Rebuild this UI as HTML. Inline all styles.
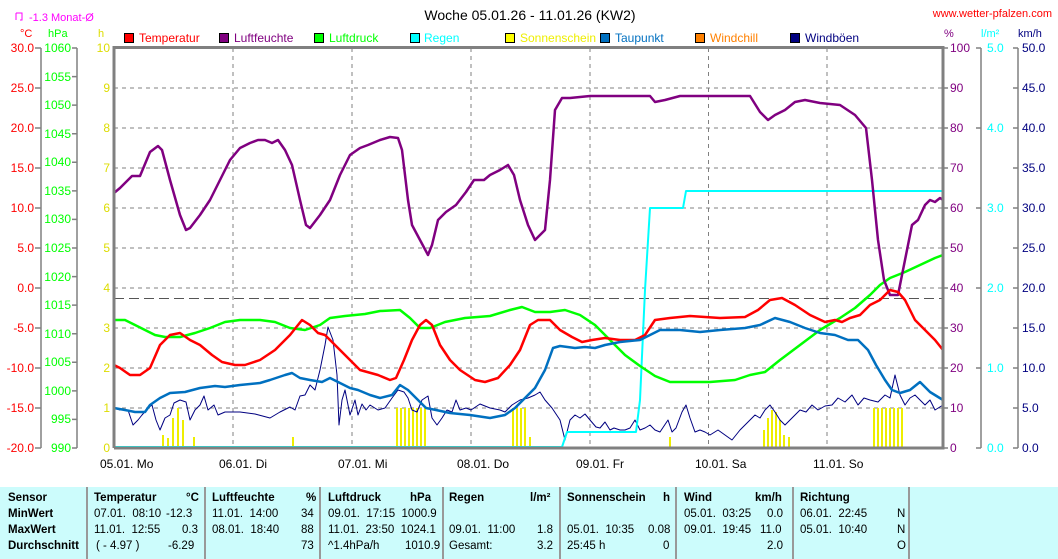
<!DOCTYPE html><html><head><meta charset="utf-8"><style>
body{margin:0;background:#fff;width:1058px;height:559px;overflow:hidden;font-family:"Liberation Sans",sans-serif}
svg{position:absolute;left:0;top:0}
text{font-family:"Liberation Sans",sans-serif;font-size:12px}
.tb{position:absolute;left:0;top:487px;width:1058px;height:72px;background:#ccfcfc}
.c{position:absolute;top:487px;height:72px;border-left:2px solid #999}
.t{position:absolute;font-size:11.5px;white-space:pre;color:#000}
.b{font-weight:bold}
</style></head><body>
<div class="tb"></div>
<div class="c" style="left:86px"></div><div class="c" style="left:204px"></div><div class="c" style="left:319px"></div><div class="c" style="left:442px"></div><div class="c" style="left:559px"></div><div class="c" style="left:675px"></div><div class="c" style="left:792px"></div><div class="c" style="left:908px"></div>
<div class="t b" style="left:8px;top:492px">Sensor</div>
<div class="t b" style="left:8px;top:508px">MinWert</div>
<div class="t b" style="left:8px;top:524px">MaxWert</div>
<div class="t b" style="left:8px;top:540px">Durchschnitt</div>
<div class="t b" style="left:94px;top:492px">Temperatur</div><div class="t b" style="left:186px;top:492px">°C</div>
<div class="t" style="left:94px;top:508px">07.01.  08:10</div><div class="t" style="left:166px;top:508px">-12.3</div>
<div class="t" style="left:94px;top:524px">11.01.  12:55</div><div class="t" style="left:182px;top:524px">0.3</div>
<div class="t" style="left:96px;top:540px">( - 4.97 )</div><div class="t" style="left:168px;top:540px">-6.29</div>
<div class="t b" style="left:212px;top:492px">Luftfeuchte</div><div class="t b" style="left:306px;top:492px">%</div>
<div class="t" style="left:212px;top:508px">11.01.  14:00</div><div class="t" style="left:301px;top:508px">34</div>
<div class="t" style="left:212px;top:524px">08.01.  18:40</div><div class="t" style="left:301px;top:524px">88</div>
<div class="t" style="left:301px;top:540px">73</div>
<div class="t b" style="left:328px;top:492px">Luftdruck</div><div class="t b" style="left:410px;top:492px">hPa</div>
<div class="t" style="left:328px;top:508px">09.01.  17:15  1000.9</div>
<div class="t" style="left:328px;top:524px">11.01.  23:50  1024.1</div>
<div class="t" style="left:328px;top:540px">^1.4hPa/h        1010.9</div>
<div class="t b" style="left:449px;top:492px">Regen</div><div class="t b" style="left:530px;top:492px">l/m²</div>
<div class="t" style="left:449px;top:524px">09.01.  11:00</div><div class="t" style="left:537px;top:524px">1.8</div>
<div class="t" style="left:449px;top:540px">Gesamt:</div><div class="t" style="left:537px;top:540px">3.2</div>
<div class="t b" style="left:567px;top:492px">Sonnenschein</div><div class="t b" style="left:663px;top:492px">h</div>
<div class="t" style="left:567px;top:524px">05.01.  10:35</div><div class="t" style="left:648px;top:524px">0.08</div>
<div class="t" style="left:567px;top:540px">25:45 h</div><div class="t" style="left:663px;top:540px">0</div>
<div class="t b" style="left:684px;top:492px">Wind</div><div class="t b" style="left:755px;top:492px">km/h</div>
<div class="t" style="left:684px;top:508px">05.01.  03:25</div><div class="t" style="left:767px;top:508px">0.0</div>
<div class="t" style="left:684px;top:524px">09.01.  19:45</div><div class="t" style="left:760px;top:524px">11.0</div>
<div class="t" style="left:767px;top:540px">2.0</div>
<div class="t b" style="left:800px;top:492px">Richtung</div>
<div class="t" style="left:800px;top:508px">06.01.  22:45</div><div class="t" style="left:897px;top:508px">N</div>
<div class="t" style="left:800px;top:524px">05.01.  10:40</div><div class="t" style="left:897px;top:524px">N</div>
<div class="t" style="left:897px;top:540px">O</div>
<svg width="1058" height="487" viewBox="0 0 1058 487">
<text x="530" y="20" text-anchor="middle" style="font-size:14px">Woche 05.01.26 - 11.01.26 (KW2)</text>
<text x="1052" y="17" text-anchor="end" fill="#f00" style="font-size:11px">www.wetter-pfalzen.com</text>
<path d="M16 13v7M16 13h6v7h-2" stroke="#f0f" fill="none"/>
<text x="29" y="21" fill="#f0f" style="font-size:11px">-1.3 Monat-Ø</text>
<text x="20" y="37" fill="#f00" style="font-size:11px">°C</text>
<text x="48" y="37" fill="#0f0" style="font-size:11px">hPa</text>
<text x="98" y="37" fill="#dd0" style="font-size:11px">h</text>
<text x="944" y="37" fill="#800080" style="font-size:11px">%</text>
<text x="981" y="37" fill="#0ff" style="font-size:11px">l/m²</text>
<text x="1018" y="37" fill="#000080" style="font-size:11px">km/h</text>
<g style="font-size:11px">
<rect x="124.5" y="33.5" width="9" height="9" fill="#f00" stroke="#000"/><text x="139" y="42" fill="#f00">Temperatur</text>
<rect x="219.5" y="33.5" width="9" height="9" fill="#800080" stroke="#000"/><text x="234" y="42" fill="#800080">Luftfeuchte</text>
<rect x="314.5" y="33.5" width="9" height="9" fill="#0f0" stroke="#000"/><text x="329" y="42" fill="#0f0">Luftdruck</text>
<rect x="410.5" y="33.5" width="9" height="9" fill="#0ff" stroke="#000"/><text x="424" y="42" fill="#0ff">Regen</text>
<rect x="505.5" y="33.5" width="9" height="9" fill="#ff0" stroke="#000"/><text x="520" y="42" fill="#ee0">Sonnenschein</text>
<rect x="600.5" y="33.5" width="9" height="9" fill="#0070c0" stroke="#000"/><text x="615" y="42" fill="#0070c0">Taupunkt</text>
<rect x="695.5" y="33.5" width="9" height="9" fill="#ff8000" stroke="#000"/><text x="710" y="42" fill="#ff8000">Windchill</text>
<rect x="790.5" y="33.5" width="9" height="9" fill="#000080" stroke="#000"/><text x="805" y="42" fill="#000080">Windböen</text>
</g>
<g stroke="#808080" stroke-dasharray="4,4" fill="none">
<path d="M114 88H943M114 128H943M114 168H943M114 208H943M114 248H943M114 288H943M114 328H943M114 368H943M114 408H943"/>
<path d="M233 48V448M352 48V448M471 48V448M590 48V448M708.5 48V448M827 48V448"/>
</g>
<path d="M114 298.5H943" stroke="#555" stroke-dasharray="10,5"/>
<g stroke="#808080" fill="none" stroke-width="1.5">
<path d="M41 48V448M77 48V448M981 48V448M1018 48V448"/>
<path d="M35 48h6M35 88h6M35 128h6M35 168h6M35 208h6M35 248h6M35 288h6M35 328h6M35 368h6M35 408h6M35 448h6"/>
<path d="M72 48h5M72 76.6h5M72 105.1h5M72 133.7h5M72 162.3h5M72 190.9h5M72 219.4h5M72 248h5M72 276.6h5M72 305.1h5M72 333.7h5M72 362.3h5M72 390.9h5M72 419.4h5M72 448h5"/>
<path d="M943 48h5M943 88h5M943 128h5M943 168h5M943 208h5M943 248h5M943 288h5M943 328h5M943 368h5M943 408h5M943 448h5"/>
<path d="M976 48h5M976 128h5M976 208h5M976 288h5M976 368h5M976 448h5"/>
<path d="M1013 48h5M1013 88h5M1013 128h5M1013 168h5M1013 208h5M1013 248h5M1013 288h5M1013 328h5M1013 368h5M1013 408h5M1013 448h5"/>
</g>
<g text-anchor="end" fill="#f00"><text x="34" y="52">30.0</text><text x="34" y="92">25.0</text><text x="34" y="132">20.0</text><text x="34" y="172">15.0</text><text x="34" y="212">10.0</text><text x="34" y="252">5.0</text><text x="34" y="292">0.0</text><text x="34" y="332">-5.0</text><text x="34" y="372">-10.0</text><text x="34" y="412">-15.0</text><text x="34" y="452">-20.0</text></g>
<g text-anchor="end" fill="#0f0" style="font-size:11px"><text x="71" y="52">1060</text><text x="71" y="81">1055</text><text x="71" y="109">1050</text><text x="71" y="138">1045</text><text x="71" y="166">1040</text><text x="71" y="195">1035</text><text x="71" y="223">1030</text><text x="71" y="252">1025</text><text x="71" y="281">1020</text><text x="71" y="309">1015</text><text x="71" y="338">1010</text><text x="71" y="366">1005</text><text x="71" y="395">1000</text><text x="71" y="423">995</text><text x="71" y="452">990</text></g>
<g text-anchor="end" fill="#dd0"><text x="110" y="52">10</text><text x="110" y="92">9</text><text x="110" y="132">8</text><text x="110" y="172">7</text><text x="110" y="212">6</text><text x="110" y="252">5</text><text x="110" y="292">4</text><text x="110" y="332">3</text><text x="110" y="372">2</text><text x="110" y="412">1</text><text x="110" y="452">0</text></g>
<g fill="#800080"><text x="950" y="52">100</text><text x="950" y="92">90</text><text x="950" y="132">80</text><text x="950" y="172">70</text><text x="950" y="212">60</text><text x="950" y="252">50</text><text x="950" y="292">40</text><text x="950" y="332">30</text><text x="950" y="372">20</text><text x="950" y="412">10</text><text x="950" y="452">0</text></g>
<g fill="#0ff"><text x="987" y="52">5.0</text><text x="987" y="132">4.0</text><text x="987" y="212">3.0</text><text x="987" y="292">2.0</text><text x="987" y="372">1.0</text><text x="987" y="452">0.0</text></g>
<g fill="#000080"><text x="1022" y="52">50.0</text><text x="1022" y="92">45.0</text><text x="1022" y="132">40.0</text><text x="1022" y="172">35.0</text><text x="1022" y="212">30.0</text><text x="1022" y="252">25.0</text><text x="1022" y="292">20.0</text><text x="1022" y="332">15.0</text><text x="1022" y="372">10.0</text><text x="1022" y="412">5.0</text><text x="1022" y="452">0.0</text></g>
<g><text x="100" y="468">05.01. Mo</text><text x="219" y="468">06.01. Di</text><text x="338" y="468">07.01. Mi</text><text x="457" y="468">08.01. Do</text><text x="576" y="468">09.01. Fr</text><text x="695" y="468">10.01. Sa</text><text x="813" y="468">11.01. So</text></g>
<g fill="#ee0">
<rect x="162" y="435" width="2" height="13"/><rect x="167" y="438" width="2" height="10"/><rect x="172" y="418" width="2" height="30"/><rect x="177" y="408" width="2" height="40"/><rect x="182" y="420" width="2" height="28"/><rect x="193" y="437" width="2" height="11"/><rect x="292" y="437" width="2" height="11"/>
<rect x="396" y="408" width="2" height="40"/><rect x="400" y="408" width="2" height="40"/><rect x="404" y="408" width="2" height="40"/><rect x="408" y="408" width="2" height="40"/><rect x="412" y="408" width="2" height="40"/><rect x="416" y="408" width="2" height="40"/><rect x="420" y="408" width="2" height="40"/><rect x="424" y="408" width="2" height="40"/>
<rect x="512" y="408" width="2" height="40"/><rect x="516" y="408" width="2" height="40"/><rect x="520" y="408" width="2" height="40"/><rect x="524" y="408" width="2" height="40"/><rect x="529" y="437" width="2" height="11"/>
<rect x="669" y="437" width="2" height="11"/>
<rect x="763" y="430" width="2" height="18"/><rect x="767" y="418" width="2" height="30"/><rect x="771" y="410" width="2" height="38"/><rect x="775" y="412" width="2" height="36"/><rect x="779" y="420" width="2" height="28"/><rect x="783" y="435" width="2" height="13"/><rect x="788" y="437" width="2" height="11"/>
<rect x="873" y="408" width="2" height="40"/><rect x="877" y="408" width="2" height="40"/><rect x="881" y="408" width="2" height="40"/><rect x="885" y="408" width="2" height="40"/><rect x="889" y="408" width="2" height="40"/><rect x="893" y="408" width="2" height="40"/><rect x="897" y="408" width="2" height="40"/><rect x="901" y="408" width="2" height="40"/>
</g>
<g fill="none" stroke-linejoin="round">
<polyline stroke="#000080" stroke-width="1" points="114,408 120,410 128,410 133,425 138,420 142,415 148,408 152,405 156,420 160,430 165,418 170,415 174,403 180,400 186,402 190,420 195,410 200,405 204,396 208,410 214,405 218,415 225,412 240,412 255,414 270,418 280,412 290,407 295,410 300,396 305,395 310,385 315,390 320,370 325,345 328,327 333,340 337,375 339,425 342,400 345,390 350,415 355,400 358,415 362,404 366,410 370,405 378,410 385,408 392,398 398,390 404,392 408,398 412,410 417,412 422,400 428,396 432,418 437,425 442,418 447,410 452,412 456,400 460,410 466,408 471,410 480,404 490,408 500,410 505,412 512,405 520,400 528,398 535,395 540,392 545,400 552,408 560,420 565,440 570,420 575,415 580,418 585,414 590,420 596,427 600,428 605,422 610,430 614,428 620,430 625,430 630,428 635,420 640,430 645,428 650,425 655,430 660,432 668,420 672,432 676,428 682,412 686,405 690,418 695,432 700,430 705,432 710,435 718,430 725,435 732,440 740,430 745,425 750,420 755,415 760,418 765,410 770,405 775,412 780,420 785,425 790,420 795,415 800,410 806,412 812,405 818,410 825,406 832,405 838,398 845,402 852,395 858,405 864,398 870,400 878,402 885,395 890,398 895,375 900,395 905,405 910,398 915,395 920,400 925,405 930,400 935,410 943,405"/>
<polyline stroke="#0ff" stroke-width="2" points="114,447 562,447 567,432 636,432 640,400 645,290 650,208 683,208 686,191 943,191"/>
<polyline stroke="#0f0" stroke-width="2.5" points="114,320 125,320 135,325 145,330 155,335 165,337 180,337 195,333 210,328 225,322 240,320 260,320 275,322 290,328 305,330 320,325 330,318 345,316 365,314 380,311 400,310 410,318 420,328 430,328 445,322 465,318 490,316 510,310 522,307 535,312 550,312 565,310 580,315 595,325 610,340 625,355 640,366 655,376 670,382 690,382 710,382 735,380 750,375 765,372 780,360 800,345 820,330 840,318 855,308 870,295 880,285 890,278 905,272 920,265 935,258 943,255"/>
<polyline stroke="#800080" stroke-width="2.5" points="114,193 120,188 132,176 140,176 150,152 158,146 162,150 170,180 180,215 186,230 190,228 200,215 210,200 220,180 230,160 240,148 250,143 258,140 265,140 272,143 278,140 285,150 292,165 300,200 306,225 310,228 320,215 330,200 340,175 350,155 360,148 368,145 380,140 390,137 398,138 402,150 408,200 412,225 420,240 428,255 432,245 438,220 446,212 456,205 466,192 474,180 484,180 490,175 500,170 508,165 514,175 520,200 528,225 535,240 540,235 545,230 550,180 555,110 562,98 570,98 590,96 620,96 650,96 655,102 665,100 680,96 750,96 760,112 768,120 775,115 785,110 795,102 805,100 820,103 840,105 855,115 866,128 872,180 878,240 884,280 890,295 898,295 905,260 912,225 918,220 925,205 930,200 935,202 940,198 943,200"/>
<polyline stroke="#f00" stroke-width="2.5" points="114,365 120,368 130,375 140,375 150,368 160,345 170,335 180,333 190,340 200,345 212,355 222,362 235,365 245,365 260,360 275,350 290,335 302,320 310,325 318,333 325,335 330,340 345,355 360,370 378,375 390,380 396,378 404,360 412,340 420,325 426,320 432,325 440,345 450,360 460,370 475,380 485,382 498,378 510,365 520,350 530,325 538,320 550,320 560,330 572,337 582,342 592,340 605,338 620,340 635,340 645,335 655,320 670,318 690,316 720,318 745,317 758,310 770,300 782,298 795,305 810,315 825,322 835,320 842,322 850,318 860,315 870,305 880,300 890,290 898,292 905,300 915,320 925,330 935,340 943,350"/>
<polyline stroke="#0070c0" stroke-width="2.5" points="114,408 125,410 135,412 145,412 150,405 160,398 170,393 185,392 200,388 215,386 225,387 240,385 260,383 270,380 285,375 292,373 300,378 310,380 322,382 330,378 340,383 350,388 358,390 370,395 380,398 392,395 400,385 408,390 416,398 426,408 436,410 450,413 470,415 490,418 505,415 515,408 525,398 535,388 545,370 553,348 560,346 575,348 585,347 595,348 605,345 620,342 640,340 660,330 680,330 700,332 720,330 745,328 760,325 775,318 790,322 805,328 820,333 835,335 848,340 858,340 868,350 876,365 885,380 892,390 900,393 910,390 920,382 930,392 943,400"/>
</g>
<path d="M114 448V47.5H943V448H114" stroke="#808080" stroke-width="3" fill="none"/>
</svg>
</body></html>
